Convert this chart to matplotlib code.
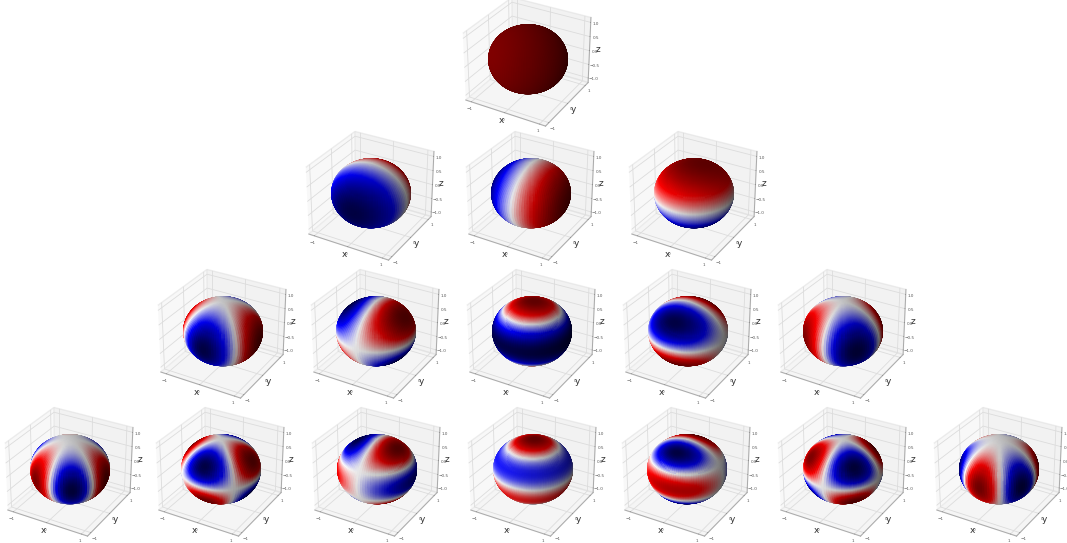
import matplotlib
matplotlib.use('Agg')
import matplotlib.pyplot as plt
from matplotlib import cm
import numpy as np

# real spherical harmonics per row (the surface colour is the function itself, no sampled data)
row_0 = ['1']
row_1 = ['y', 'x', 'z']
row_2 = ['x2-y2', 'xz', '3z2-1', 'yz', 'xy']
row_3 = ['cos3', '(x2-y2)z', 'x(5z2-1)', '5z3-3z', 'y(5z2-1)', 'xyz', 'sin3']
rows = [row_0, row_1, row_2, row_3]

x_ticks = [-1, 0, 1]
y_ticks = [-1, 0, 1]
z_ticks = [-1.0, -0.5, 0.0, 0.5, 1.0]

# sphere centres in pixels
row_y = [60, 194, 332, 470]
row_x = [
    [528],
    [371, 531, 694],
    [223, 376, 532, 688, 843],
    [70, 221, 377, 533, 687, 843, 999],
]

W, H = 1067, 543


def harmonic(name, x, y, z):
    if name == '1':
        return np.ones_like(x)
    if name == 'y':
        return y
    if name == 'x':
        return x
    if name == 'z':
        return z
    if name == 'x2-y2':
        return x**2 - y**2
    if name == 'xz':
        return x * z
    if name == '3z2-1':
        return 3 * z**2 - 1
    if name == 'yz':
        return y * z
    if name == 'xy':
        return x * y
    if name == 'cos3':
        return x**3 - 3 * x * y**2
    if name == '(x2-y2)z':
        return (x**2 - y**2) * z
    if name == 'x(5z2-1)':
        return x * (5 * z**2 - 1)
    if name == '5z3-3z':
        return 5 * z**3 - 3 * z
    if name == 'y(5z2-1)':
        return y * (5 * z**2 - 1)
    if name == 'xyz':
        return x * y * z
    if name == 'sin3':
        return 3 * x**2 * y - y**3


theta = np.linspace(0, np.pi, 100)
phi = np.linspace(0, 2 * np.pi, 100)
theta, phi = np.meshgrid(theta, phi)
x = np.sin(theta) * np.cos(phi)
y = np.sin(theta) * np.sin(phi)
z = np.cos(theta)

fig = plt.figure(figsize=(W / 100, H / 100), dpi=100)
ax_w, ax_h = 170, 150

for names, cy, cxs in zip(rows, row_y, row_x):
    for name, cx in zip(names, cxs):
        # sphere sits about 2 px right of the axes centre
        left = (cx - 2 - ax_w / 2) / W
        ax = fig.add_axes([left, 1 - (cy + 1 + ax_h / 2) / H, ax_w / W, ax_h / H],
                          projection='3d')
        f = harmonic(name, x, y, z)
        fmin, fmax = f.min(), f.max()
        if fmax > fmin:
            colors = (f - fmin) / (fmax - fmin)
        else:
            colors = np.ones_like(f)
        ax.plot_surface(x, y, z, rstride=1, cstride=1, facecolors=cm.seismic(colors))
        ax.set_xlim(-1.17, 1.17)
        ax.set_ylim(-1.17, 1.17)
        ax.set_zlim(-1.17, 1.17)
        ax.set_box_aspect((1, 1, 0.83), zoom=0.972)
        ax.set_xticks(x_ticks)
        ax.set_yticks(y_ticks)
        ax.set_zticks(z_ticks)
        ax.tick_params(labelsize=3, pad=-5.5, colors='#555555')
        for axis in (ax.xaxis, ax.yaxis, ax.zaxis):
            axis.line.set_color('#aaaaaa')
            axis.line.set_linewidth(0.7)
            axis.pane.set_edgecolor('#dddddd')
            axis._axinfo['grid']['color'] = '#dcdcdc'
            axis._axinfo['grid']['linewidth'] = 0.6
            axis._axinfo['tick']['inward_factor'] = 0.0
            axis._axinfo['tick']['outward_factor'] = 0.05
            axis._axinfo['tick']['linewidth'] = {True: 0.3, False: 0.3}
        ax.set_xlabel('x', fontsize=6.5, labelpad=-17, color='#333333')
        ax.set_ylabel('y', fontsize=6.5, labelpad=-17, color='#333333')
        ax.set_zlabel('z', fontsize=6.5, labelpad=-17, color='#333333')
        ax.patch.set_alpha(0)

fig.savefig('out.png', dpi=100)
